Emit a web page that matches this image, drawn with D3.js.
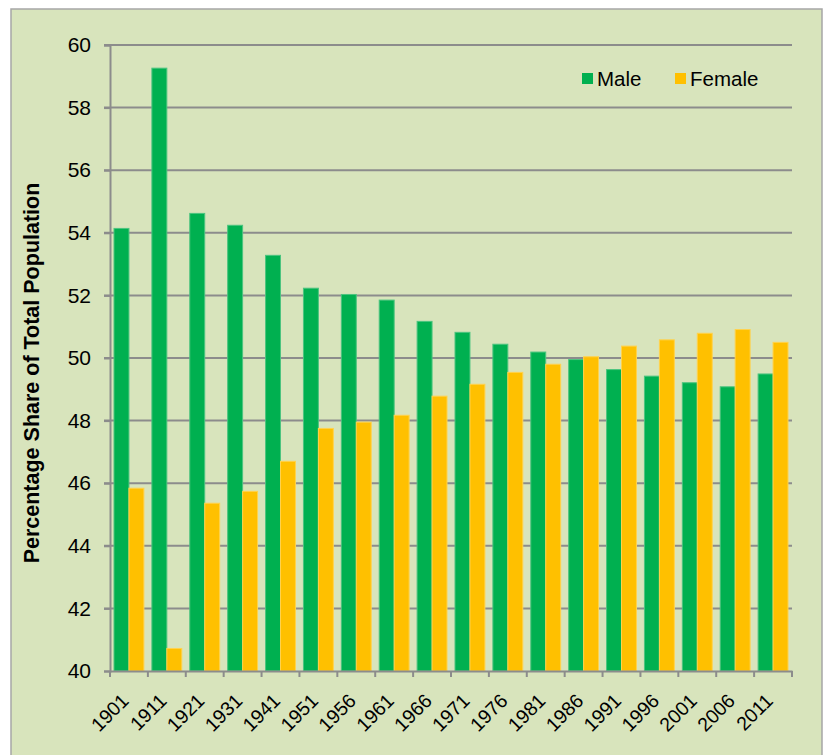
<!DOCTYPE html>
<html>
<head>
<meta charset="utf-8">
<script src="https://cdn.jsdelivr.net/npm/d3@7"></script>
<style>
  body { margin: 0; background: #fff; }
  svg { display: block; }
</style>
</head>
<body>
<div id="chart"></div>
<script>
const years = ["1901","1911","1921","1931","1941","1951","1956","1961","1966","1971","1976","1981","1986","1991","1996","2001","2006","2011"];
const male =   [54.14, 59.26, 54.62, 54.24, 53.28, 52.23, 52.03, 51.85, 51.17, 50.82, 50.44, 50.19, 49.95, 49.63, 49.42, 49.21, 49.08, 49.49];
const female = [45.84, 40.72, 45.36, 45.74, 46.70, 47.75, 47.95, 48.17, 48.78, 49.16, 49.54, 49.80, 50.04, 50.38, 50.58, 50.79, 50.91, 50.50];
const yTicks = [40, 42, 44, 46, 48, 50, 52, 54, 56, 58, 60];
const seriesNames = ["Male", "Female"];
const colors = {Male: "#00b050", Female: "#ffc000"};

const W = 827, H = 755;
const margin = {top: 45, right: 35, bottom: 84, left: 110};
const width = 792 - margin.left;
const height = 671 - margin.top;
const FONT = "Liberation Sans, Arial, sans-serif";

const svg = d3.select("#chart").append("svg")
    .attr("width", W)
    .attr("height", H);

// chart area background + border
svg.append("rect")
    .attr("x", 11).attr("y", 9)
    .attr("width", 811).attr("height", 760)
    .attr("fill", "#d8e4bc")
    .attr("stroke", "#a6a6a6")
    .attr("stroke-width", 1.5);

const g = svg.append("g")
    .attr("transform", "translate(" + margin.left + "," + margin.top + ")");

const x = d3.scaleBand().domain(years).range([0, width]).paddingInner(0).paddingOuter(0);
const xInner = d3.scaleBand().domain(seriesNames).range([4, x.bandwidth() - 4]);
const y = d3.scaleLinear().domain([40, 60]).range([height, 0]);

// gridlines
g.append("g")
    .selectAll("line")
    .data(yTicks.filter(d => d > 40))
    .enter().append("line")
    .attr("x1", -6).attr("x2", width)
    .attr("y1", d => y(d)).attr("y2", d => y(d))
    .attr("stroke", "#8c8c8c")
    .attr("stroke-width", 2);

// bars
const rows = years.map((yr, i) => ({year: yr, Male: male[i], Female: female[i]}));
const groups = g.append("g").selectAll("g")
    .data(rows)
    .enter().append("g")
    .attr("transform", d => "translate(" + x(d.year) + ",0)");

groups.selectAll("rect")
    .data(d => seriesNames.map(k => ({key: k, value: d[k]})))
    .enter().append("rect")
    .attr("x", d => xInner(d.key))
    .attr("width", xInner.bandwidth())
    .attr("y", d => y(d.value))
    .attr("height", d => height - y(d.value))
    .attr("fill", d => colors[d.key])
    .attr("stroke", d => d.key === "Male" ? "#4cc47f" : "#ffd24d")
    .attr("stroke-width", 1);

// y axis
const yAxis = d3.axisLeft(y).tickValues(yTicks).tickSize(6).tickPadding(13);
const ya = g.append("g").call(yAxis);
ya.select(".domain").attr("stroke", "#8c8c8c").attr("stroke-width", 2);
ya.selectAll(".tick line").attr("stroke", "#8c8c8c").attr("stroke-width", 2);
ya.selectAll("text")
    .attr("font-family", FONT)
    .attr("font-size", 21)
    .attr("fill", "#000");

// x axis
const xAxis = d3.axisBottom(x).tickSize(0).tickPadding(0);
const xa = g.append("g")
    .attr("transform", "translate(0," + height + ")")
    .call(xAxis);
xa.select(".domain").attr("stroke", "#8c8c8c").attr("stroke-width", 2);
xa.selectAll(".tick text")
    .attr("font-family", FONT)
    .attr("font-size", 19.5)
    .attr("fill", "#000")
    .attr("text-anchor", "end")
    .attr("transform", "translate(1,31) rotate(-45)")
    .attr("dy", "0");
// tick marks at band boundaries
g.append("g")
    .attr("transform", "translate(0," + height + ")")
    .selectAll("line")
    .data(years.map(d => x(d)).concat([width]))
    .enter().append("line")
    .attr("x1", d => d).attr("x2", d => d)
    .attr("y1", 0).attr("y2", 6)
    .attr("stroke", "#8c8c8c")
    .attr("stroke-width", 2);

// y axis title
svg.append("text")
    .attr("transform", "translate(39," + (margin.top + height / 2 + 15) + ") rotate(-90)")
    .attr("text-anchor", "middle")
    .attr("font-family", FONT)
    .attr("font-weight", "bold")
    .attr("font-size", 21.5)
    .text("Percentage Share of Total Population");

// legend
const legend = svg.append("g");
const legendPos = [{key: "Male", x: 582}, {key: "Female", x: 675}];
legendPos.forEach(l => {
  legend.append("rect")
      .attr("x", l.x).attr("y", 73)
      .attr("width", 11).attr("height", 11)
      .attr("fill", colors[l.key]);
  legend.append("text")
      .attr("x", l.x + 15).attr("y", 86)
      .attr("font-family", FONT)
      .attr("font-size", 20.5)
      .text(l.key);
});
</script>
</body>
</html>
